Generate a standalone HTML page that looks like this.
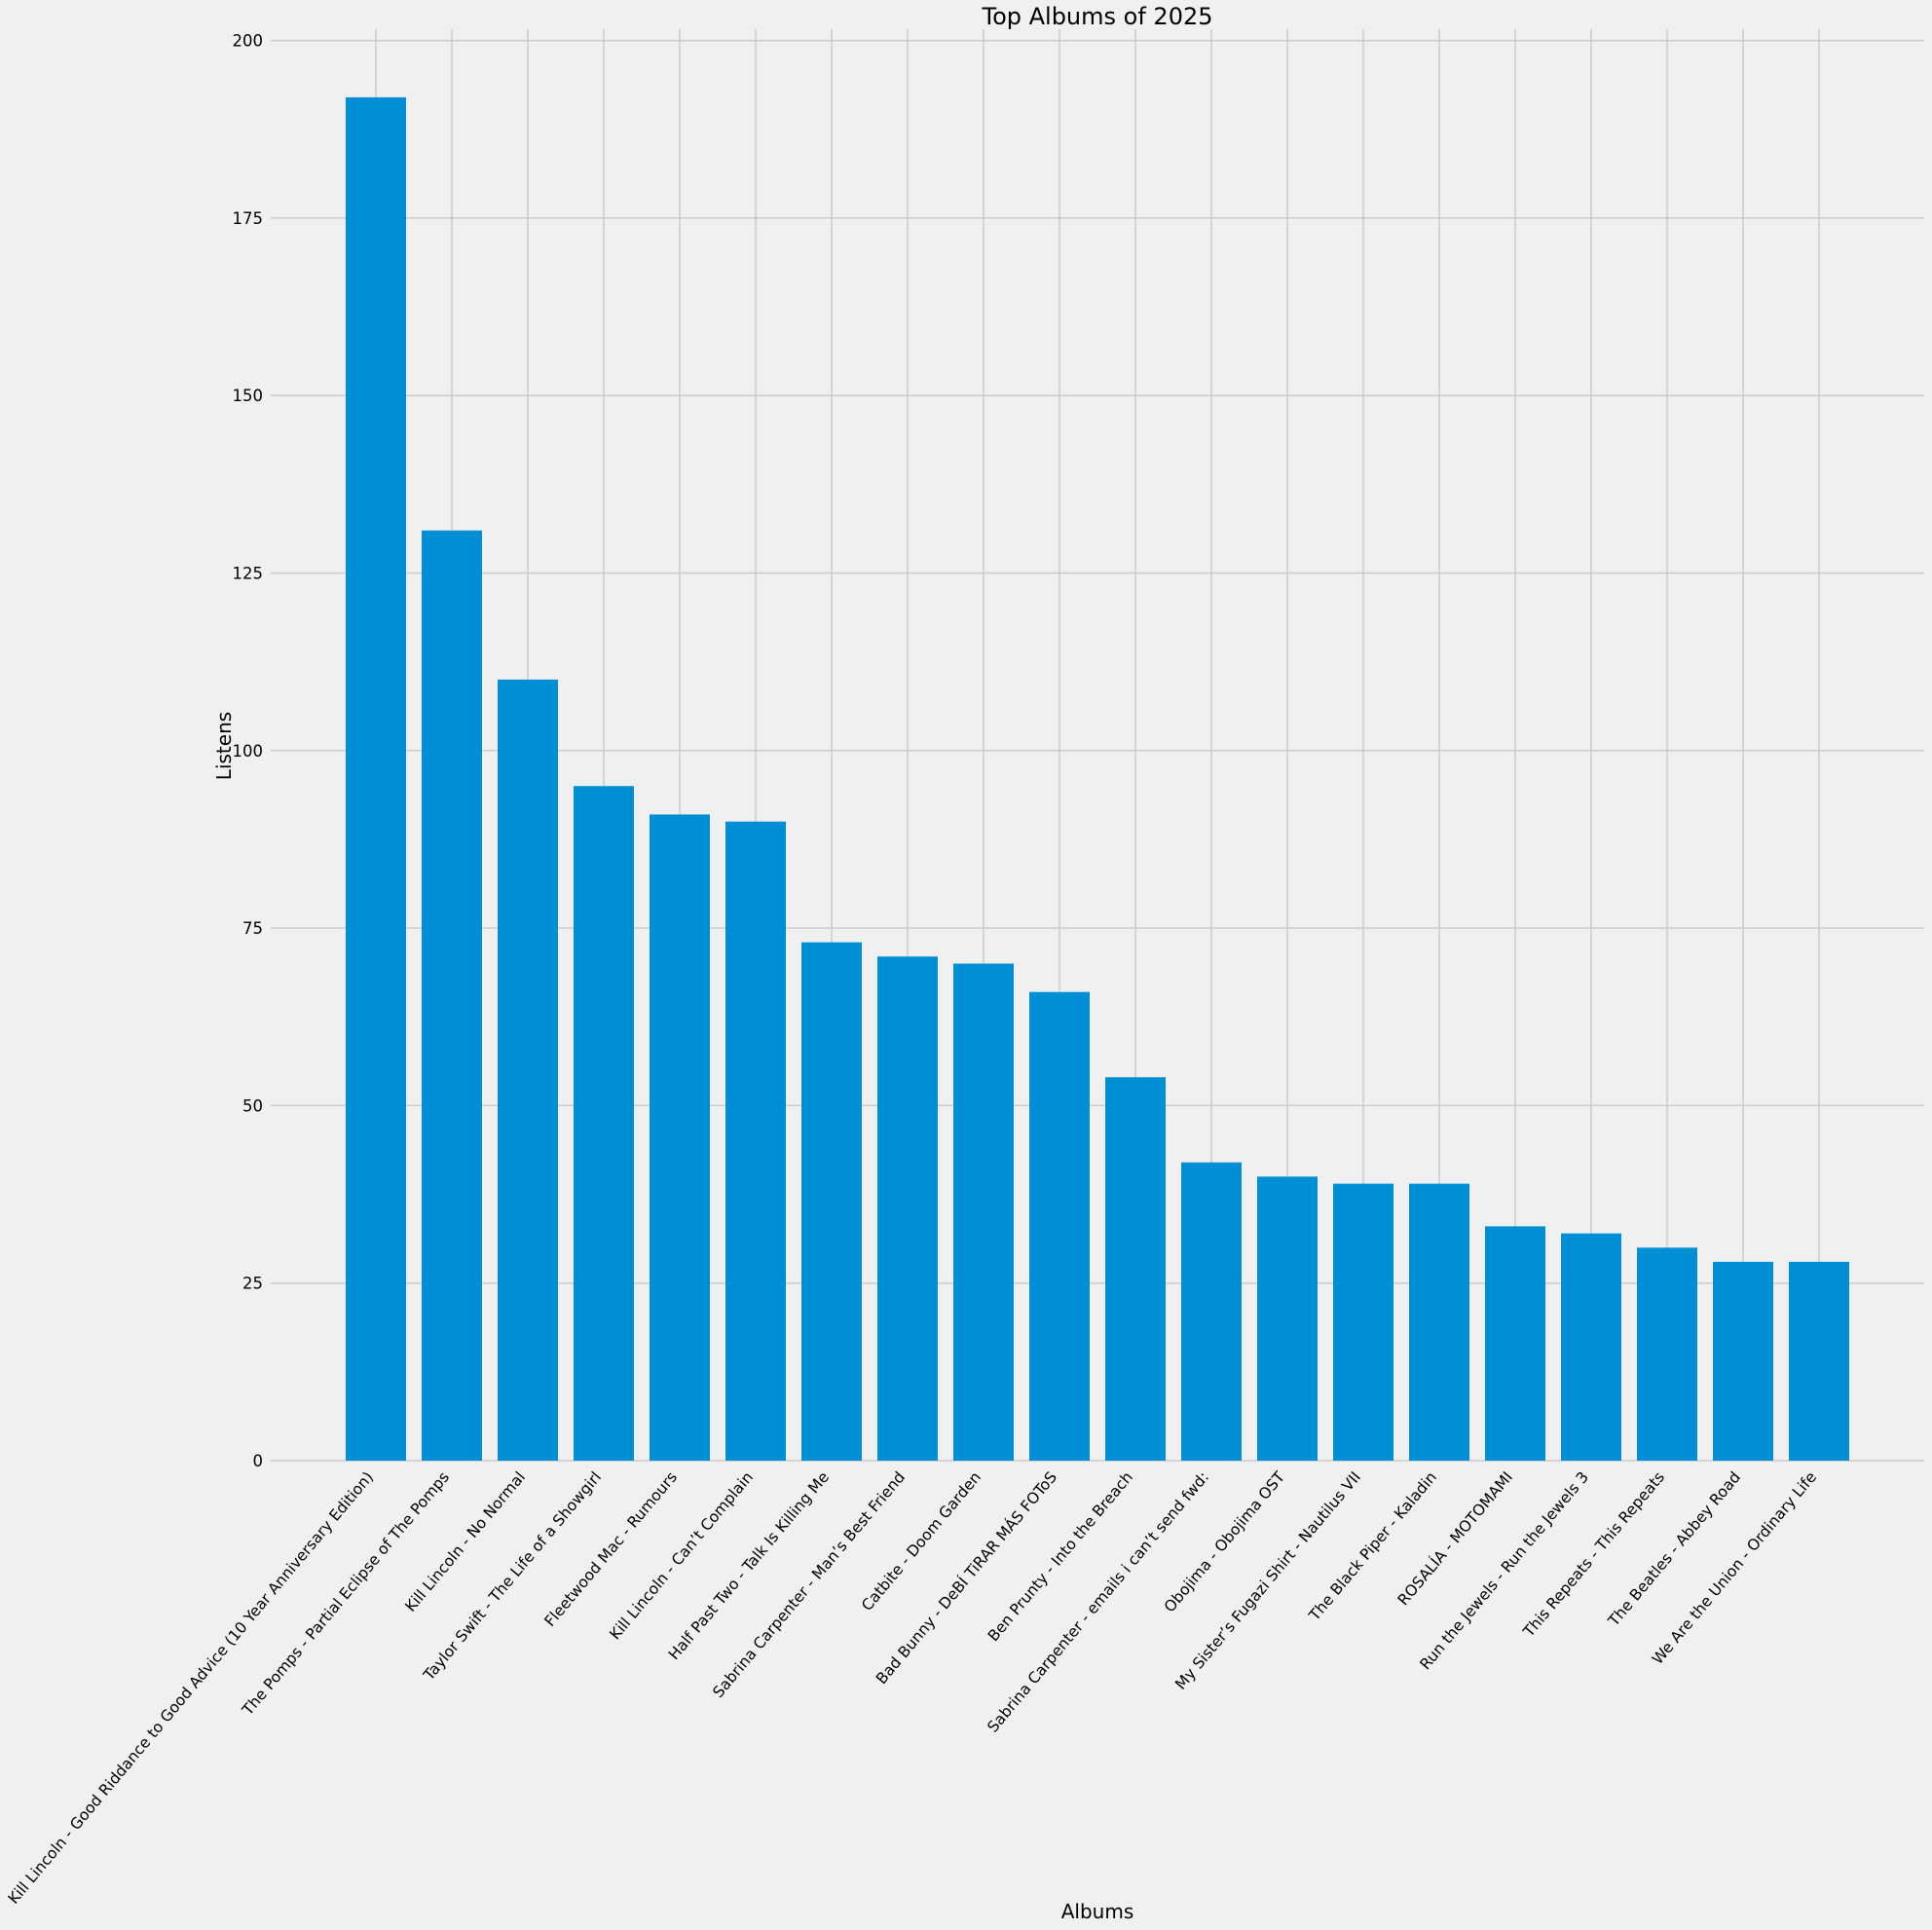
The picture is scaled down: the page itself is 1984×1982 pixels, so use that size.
<!DOCTYPE html>
<html><head><meta charset="utf-8"><style>
html,body{margin:0;padding:0;background:#f0f0f0;}
svg{display:block;font-family:"DejaVu Sans","Liberation Sans",sans-serif;}
</style></head><body>
<svg width="1984" height="1982" viewBox="0 0 1984 1982" xmlns="http://www.w3.org/2000/svg">
<rect width="1984" height="1982" fill="#f0f0f0"/>
<g id="g"></g>
<script>
(function(){
var ns="http://www.w3.org/2000/svg",g=document.getElementById("g");
function el(t,a,txt){var e=document.createElementNS(ns,t);for(var k in a)e.setAttribute(k,a[k]);if(txt!=null)e.textContent=txt;g.appendChild(e);return e;}
var y0=1500,s=7.292,L=278,R=1976,top=30;
var names=["Kill Lincoln - Good Riddance to Good Advice (10 Year Anniversary Edition)","The Pomps - Partial Eclipse of The Pomps","Kill Lincoln - No Normal","Taylor Swift - The Life of a Showgirl","Fleetwood Mac - Rumours","Kill Lincoln - Can\u2019t Complain","Half Past Two - Talk Is Killing Me","Sabrina Carpenter - Man\u2019s Best Friend","Catbite - Doom Garden","Bad Bunny - DeB\u00cd TiRAR M\u00c1S FOToS","Ben Prunty - Into the Breach","Sabrina Carpenter - emails i can\u2019t send fwd:","Obojima - Obojima OST","My Sister\u2019s Fugazi Shirt - Nautilus VII","The Black Piper - Kaladin","ROSAL\u00cdA - MOTOMAMI","Run the Jewels - Run the Jewels 3","This Repeats - This Repeats","The Beatles - Abbey Road","We Are the Union - Ordinary Life"];
var vals=[192,131,110,95,91,90,73,71,70,66,54,42,40,39,39,33,32,30,28,28];
for(var v=0;v<=200;v+=25){var y=y0-v*s;
 el("line",{x1:L,x2:R,y1:y,y2:y,stroke:"#cbcbcb","stroke-width":1.5});
 el("text",{x:270,y:y+6,"text-anchor":"end","font-size":16.5,fill:"#000"},String(v));}
for(var i=0;i<20;i++){var cx=386+i*78.0;
 el("line",{x1:cx,x2:cx,y1:top,y2:y0,stroke:"#cbcbcb","stroke-width":1.5});}
for(var i=0;i<20;i++){var cx=386+i*78.0,h=vals[i]*s;
 el("rect",{x:cx-31,y:y0-h,width:62,height:h,fill:"#008fd5"});
 var ax=cx-2,ay=1517;
 el("text",{x:ax,y:ay,"text-anchor":"end","font-size":15.6,fill:"#000",transform:"rotate(-50 "+ax+" "+ay+")"},names[i]);}
el("text",{x:1127,y:25,"text-anchor":"middle","font-size":24,fill:"#000"},"Top Albums of 2025");
el("text",{x:1127,y:1970,"text-anchor":"middle","font-size":20,fill:"#000"},"Albums");
el("text",{x:237,y:766,"text-anchor":"middle","font-size":20,fill:"#000",transform:"rotate(-90 237 766)"},"Listens");
})();
</script>
</svg>
</body></html>
